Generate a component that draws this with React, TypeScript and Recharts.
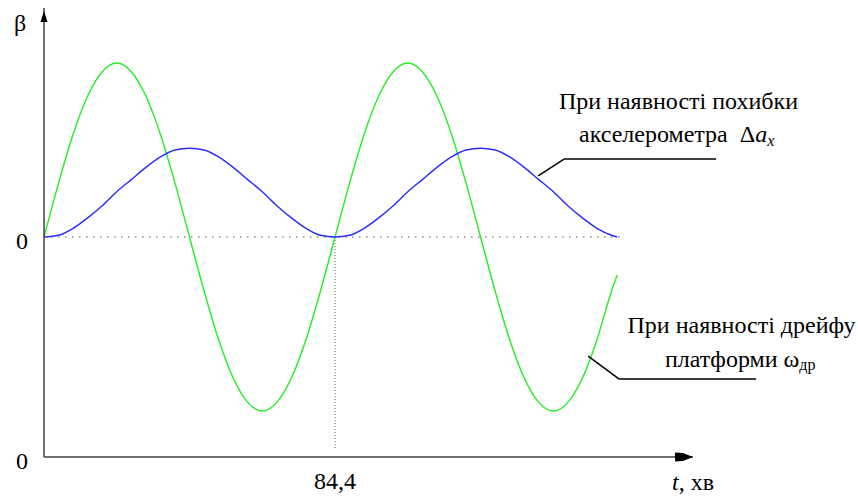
import React from "react";
import {
  LineChart, Line, XAxis, YAxis, ReferenceLine, ReferenceDot,
} from "recharts";

// time, min (step ≈ 1/20 of the 84.4 min period)
const TIME = [
  0, 4.22, 8.44, 12.66, 16.88, 21.1, 25.32, 29.54, 33.76, 37.98,
  42.2, 46.42, 50.64, 54.86, 59.08, 63.3, 67.52, 71.74, 75.96, 80.18,
  84.4, 88.62, 92.84, 97.06, 101.28, 105.5, 109.72, 113.94, 118.16, 122.38,
  126.6, 130.82, 135.04, 139.26, 143.48, 147.7, 151.92, 156.14, 160.36, 164.58,
  166.2,
];

// β with platform drift ω_др
const DRIFT = [
  0, 0.31, 0.59, 0.81, 0.95, 1.0, 0.95, 0.81, 0.59, 0.31,
  0, -0.31, -0.59, -0.81, -0.95, -1.0, -0.95, -0.81, -0.59, -0.31,
  0, 0.31, 0.59, 0.81, 0.95, 1.0, 0.95, 0.81, 0.59, 0.31,
  0, -0.31, -0.59, -0.81, -0.95, -1.0, -0.95, -0.81, -0.59, -0.31,
  -0.22,
];

// β with accelerometer error Δa_x
const ACCEL = [
  0, 0.01, 0.05, 0.11, 0.18, 0.26, 0.33, 0.4, 0.46, 0.5,
  0.51, 0.5, 0.46, 0.4, 0.33, 0.26, 0.18, 0.11, 0.05, 0.01,
  0, 0.01, 0.05, 0.11, 0.18, 0.26, 0.33, 0.4, 0.46, 0.5,
  0.51, 0.5, 0.46, 0.4, 0.33, 0.26, 0.18, 0.11, 0.05, 0.01,
  0,
];

const PERIOD = 84.4;
const X_MAX = 188.2;
const Y_MIN = -1.264;
const Y_MAX = 1.316;

const data = TIME.map((t, i) => ({ t, drift: DRIFT[i], accel: ACCEL[i] }));

const AXIS = "#404040";
const txt = { fontFamily: "Liberation Serif", fontSize: 24, fill: "#000" };

const YTick = ({ x, y }: any) => (
  <text x={x - 14} y={y + 12} textAnchor="middle" {...txt}>
    0
  </text>
);

const XTick = ({ x, y }: any) => (
  <text x={x} y={y + 24} textAnchor="middle" {...txt}>
    84,4
  </text>
);

const ArrowRight = ({ cx, cy }: any) => (
  <polygon
    points={`${cx},${cy} ${cx - 10},${cy - 4} ${cx - 18},${cy - 4.5} ${cx - 18},${cy + 4.5} ${cx - 10},${cy + 4}`}
    fill="#000"
  />
);

const ArrowUp = ({ cx, cy }: any) => (
  <polygon
    points={`${cx},${cy + 3} ${cx - 3.5},${cy + 14} ${cx + 3.5},${cy + 14}`}
    fill="#000"
  />
);

// captions drawn on a plain svg laid over the chart
const Captions = () => (
  <svg
    width={858}
    height={496}
    style={{ position: "absolute", left: 0, top: 0, pointerEvents: "none" }}
  >
    <text x={20} y={31} textAnchor="middle" {...txt}>β</text>
    <text x={672} y={490} {...txt}>
      <tspan fontStyle="italic">t</tspan>, хв
    </text>
    <text x={678.5} y={109} textAnchor="middle" {...txt}>При наявності похибки</text>
    <text x={579} y={142} {...txt}>
      акселерометра {"\u00a0"}Δ<tspan fontStyle="italic">a</tspan>
      <tspan fontStyle="italic" fontSize={16} dy={4}>x</tspan>
    </text>
    <text x={741.5} y={333} textAnchor="middle" {...txt}>При наявності дрейфу</text>
    <text x={665} y={367} {...txt}>
      платформи ω<tspan fontSize={16} dy={3}>др</tspan>
    </text>
  </svg>
);

export default function App() {
  return (
    <div style={{ position: "absolute", left: 0, top: 0, width: 858, height: 496, background: "#fff" }}>
      <LineChart width={858} height={496} data={data} margin={{ top: 8, right: 165, left: 0, bottom: 0 }}>
        <XAxis
          dataKey="t"
          type="number"
          domain={[0, X_MAX]}
          ticks={[PERIOD]}
          tick={<XTick />}
          tickLine={false}
          axisLine={{ stroke: AXIS, strokeWidth: 1.5 }}
          height={39}
          allowDataOverflow
        />
        <YAxis
          type="number"
          domain={[Y_MIN, Y_MAX]}
          ticks={[Y_MIN, 0]}
          tick={<YTick />}
          tickLine={false}
          axisLine={{ stroke: AXIS, strokeWidth: 1.5 }}
          width={44}
          allowDataOverflow
        />
        <ReferenceLine
          segment={[{ x: 0, y: 0 }, { x: 168, y: 0 }]}
          stroke="#555"
          strokeWidth={1.2}
          strokeDasharray="1.5 5.5"
        />
        <ReferenceLine
          segment={[{ x: PERIOD, y: 0 }, { x: PERIOD, y: -1.22 }]}
          stroke="#333"
          strokeWidth={0.8}
          strokeDasharray="1 2"
        />
        <Line
          type="monotone"
          dataKey="drift"
          stroke="#22ee22"
          strokeWidth={1.4}
          dot={false}
          isAnimationActive={false}
        />
        <Line
          type="monotone"
          dataKey="accel"
          stroke="#2a2aff"
          strokeWidth={1.4}
          dot={false}
          isAnimationActive={false}
        />
        {/* leader lines to the curve captions */}
        <ReferenceLine
          segment={[{ x: 143.3, y: 0.351 }, { x: 150.8, y: 0.448 }]}
          stroke="#000"
          strokeWidth={1.5}
          ifOverflow="visible"
        />
        <ReferenceLine
          segment={[{ x: 150.8, y: 0.448 }, { x: 194.9, y: 0.448 }]}
          stroke="#000"
          strokeWidth={1.5}
          ifOverflow="visible"
        />
        <ReferenceLine
          segment={[{ x: 157.8, y: -0.684 }, { x: 166.8, y: -0.816 }]}
          stroke="#000"
          strokeWidth={1.5}
          ifOverflow="visible"
        />
        <ReferenceLine
          segment={[{ x: 166.8, y: -0.816 }, { x: 206.5, y: -0.816 }]}
          stroke="#000"
          strokeWidth={1.5}
          ifOverflow="visible"
        />
        <ReferenceDot x={X_MAX} y={Y_MIN} r={0} shape={<ArrowRight />} ifOverflow="visible" />
        <ReferenceDot x={0} y={Y_MAX} r={0} shape={<ArrowUp />} ifOverflow="visible" />
      </LineChart>
      <Captions />
    </div>
  );
}
